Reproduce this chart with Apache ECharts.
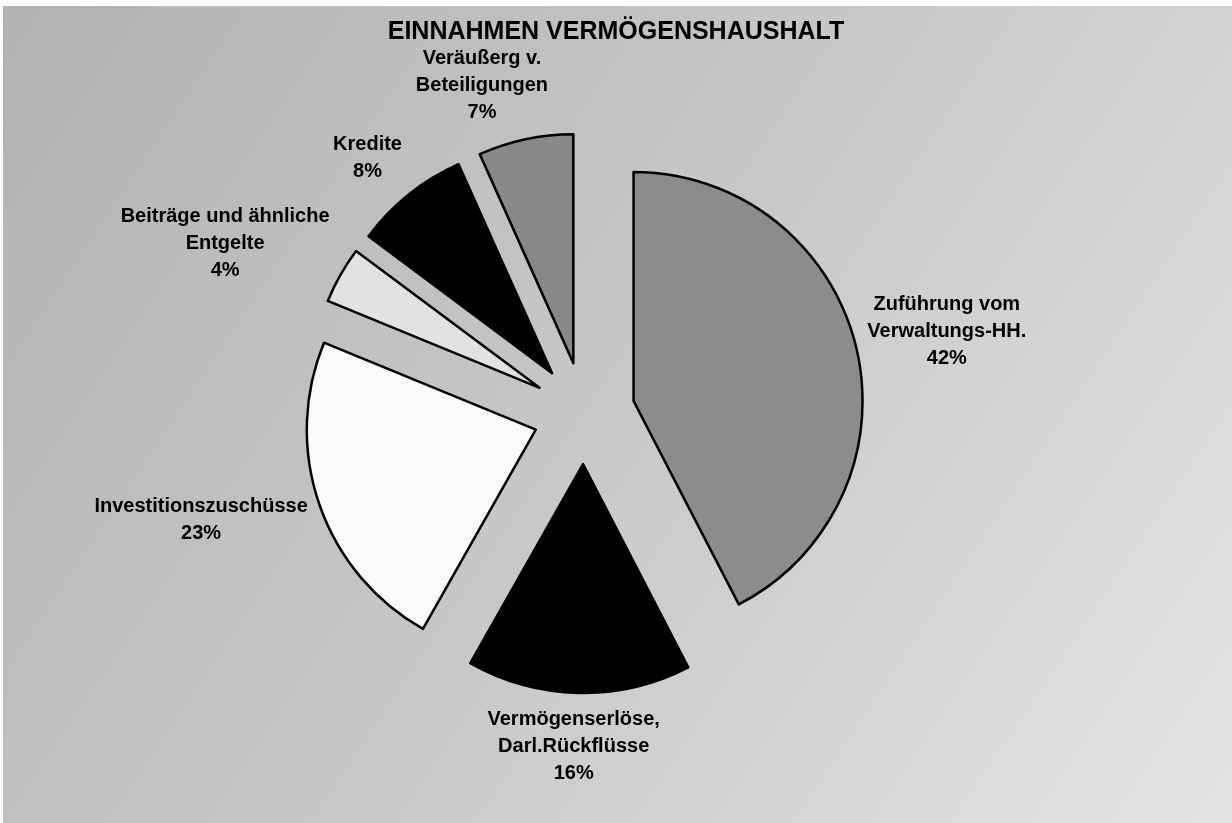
<!DOCTYPE html>
<html>
<head>
<meta charset="utf-8">
<title>Einnahmen Vermögenshaushalt</title>
<script src="https://cdn.jsdelivr.net/npm/echarts@6/dist/echarts.min.js"></script>
<style>
  html, body { margin: 0; padding: 0; background: #fff; }
  #chart { width: 1232px; height: 823px; }
</style>
</head>
<body>
<div id="chart"></div>
<script>
// Anteile, im Uhrzeigersinn ab 12 Uhr
const categories = ['Zuführung vom\nVerwaltungs-HH.', 'Vermögenserlöse,\nDarl.Rückflüsse', 'Investitionszuschüsse', 'Beiträge und ähnliche\nEntgelte', 'Kredite', 'Veräußerg v.\nBeteiligungen'];
const values = [42.4, 15.8, 23.0, 4.0, 8.1, 6.7];
const fills = ['#8c8c8c', '#000000', '#fafafa', '#e2e2e2', '#000000', '#888888'];

const CX = 584, CY = 413, R = 229, OFF = 51, GAP = 10;
const LABEL_FONT = 'bold 20px "Liberation Sans"';
const LINE_H = 27;

const total = values.reduce((a, b) => a + b, 0);

// Beschriftungen ausserhalb, wie bei Excel: Textblock liegt an der Verlaengerung der Segmentmitte
const ctx = document.createElement('canvas').getContext('2d');
ctx.font = LABEL_FONT;
const labels = [];
let acc = 0;
values.forEach((v, i) => {
  const t = (acc + v / 2) / total * 2 * Math.PI;
  acc += v;
  const pct = Math.round(v / total * 100) + '%';
  const lines = categories[i].split('\n').concat(pct);
  const w = Math.max(...lines.map(l => ctx.measureText(l).width));
  const h = lines.length * LINE_H;
  const dx = Math.sin(t), dy = -Math.cos(t);
  const ax = CX + (OFF + R + GAP) * dx;
  const ay = CY + (OFF + R + GAP) * dy;
  const fx = Math.sign(dx) * Math.min(1.02, 3 * Math.abs(dx));
  const fy = Math.sign(dy) * Math.min(1.08, 1.35 * Math.abs(dy));
  labels.push({
    type: 'text',
    x: ax + fx * w / 2,
    y: ay + fy * h / 2,
    silent: true,
    z: 10,
    style: {
      text: lines.join('\n'),
      font: LABEL_FONT,
      lineHeight: LINE_H,
      fill: '#000',
      align: 'center',
      verticalAlign: 'middle'
    }
  });
});

const chart = echarts.init(document.getElementById('chart'));
chart.setOption({
  animation: false,
  backgroundColor: {
    type: 'linear', x: 0, y: 0, x2: 1, y2: 1,
    colorStops: [
      { offset: 0, color: '#b2b2b2' },
      { offset: 0.5, color: '#c8c8c8' },
      { offset: 1, color: '#e4e4e4' }
    ]
  },
  graphic: [
    { type: 'rect', left: 0, top: 0, shape: { width: 1232, height: 6 }, style: { fill: '#fff' }, silent: true },
    { type: 'rect', left: 0, top: 0, shape: { width: 3, height: 823 }, style: { fill: '#fff' }, silent: true }
  ].concat(labels),
  title: {
    text: 'EINNAHMEN VERMÖGENSHAUSHALT',
    left: 'center',
    top: 15,
    textStyle: { fontFamily: 'Liberation Sans', fontWeight: 'bold', fontSize: 25, color: '#000' }
  },
  series: [{
    type: 'pie',
    center: [CX, CY],
    radius: R,
    startAngle: 90,
    clockwise: true,
    selectedMode: 'multiple',
    selectedOffset: OFF,
    avoidLabelOverlap: false,
    emphasis: { disabled: true },
    itemStyle: { borderColor: '#000', borderWidth: 2.5 },
    select: { itemStyle: { borderColor: '#000', borderWidth: 2.5 } },
    label: { show: false },
    labelLine: { show: false },
    data: categories.map((c, i) => ({
      name: c,
      value: values[i],
      selected: true,
      itemStyle: { color: fills[i] },
      select: { itemStyle: { color: fills[i] } }
    }))
  }]
});
</script>
</body>
</html>
